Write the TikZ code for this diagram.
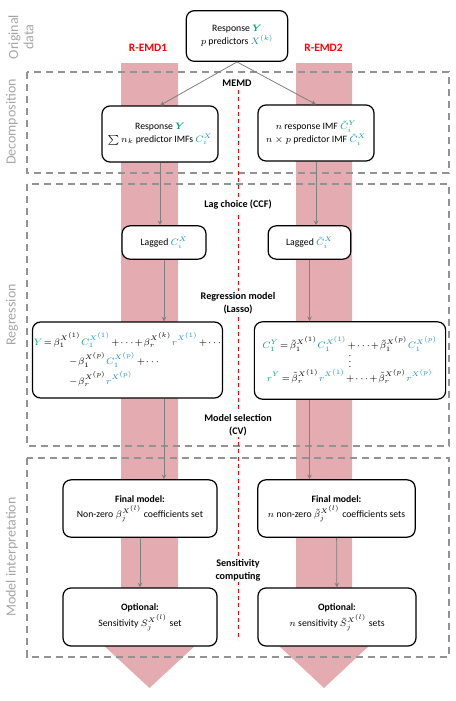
\documentclass[tikz,border=0pt]{standalone}
\usepackage{amsmath}
\usepackage{amssymb}
\usepackage{fontspec}
\setmainfont{Carlito}
\usepackage{xcolor}
\usepackage{tikz}
\usetikzlibrary{arrows, positioning, calc}
\definecolor{bandpink}{RGB}{228,172,177}
\definecolor{ygreen}{RGB}{0,166,118}
\definecolor{xblue}{RGB}{30,140,210}
\definecolor{labelgray}{RGB}{165,165,165}
\newcommand{\gY}[1]{\textcolor{ygreen}{#1}}
\newcommand{\bX}[1]{\textcolor{xblue}{#1}}
\newcommand{\tightmu}{\medmuskip=1.5mu\relax\thickmuskip=2.5mu\relax}
\tikzstyle{stagebox} = [rectangle, rounded corners=6pt, draw=black, line width=0.9pt, fill=white, align=center, inner sep=2pt, font=\fontsize{7.3}{9.6}\selectfont]
\tikzstyle{eqbox} = [stagebox, inner sep=1pt, font=\fontsize{6.8}{8}\selectfont]
\tikzstyle{phase} = [fill=white, align=center, inner sep=1pt, font=\fontsize{7.6}{9.6}\selectfont\bfseries]
\tikzstyle{panel} = [draw=gray!85, dash pattern=on 5.5pt off 3.5pt, line width=0.8pt]
\tikzstyle{arrow} = [draw=gray, line width=0.6pt, ->, >=stealth]
\tikzstyle{sidelabel} = [rotate=90, text=labelgray, align=center, font=\fontsize{10.5}{11.5}\selectfont]
\tikzstyle{method} = [text=red, font=\fontsize{8.5}{10}\selectfont\bfseries]
\tikzstyle{band} = [fill=bandpink, draw=none]

\begin{document}
\begin{tikzpicture}[x=0.75pt, y=-0.75pt]
\useasboundingbox (0,0) rectangle (456,701);

% Method bands
\path [band] (121,63) -- (178,63) -- (178,630) -- (212,630) -- (149.5,688) -- (87,630) -- (121,630) -- cycle;
\path [band] (296,63) -- (352,63) -- (352,630) -- (386,630) -- (324,688) -- (262,630) -- (296,630) -- cycle;

% Stage panels
\draw [panel] (27,72) rectangle (449,173);
\draw [panel] (27,184) rectangle (449,446);
\draw [panel] (27,458) rectangle (449,657);
\draw [red, dash pattern=on 3pt off 2.5pt, line width=0.6pt] (238,90) -- (238,640);

\node (orig) [sidelabel] at (21,37) {Original\\data};
\node (decomp) [sidelabel] at (12,122) {Decomposition};
\node (regr) [sidelabel] at (12,315) {Regression};
\node (interp) [sidelabel] at (12,557) {Model interpretation};

\node (remd1) [method] at (148,48) {R-EMD1};
\node (remd2) [method] at (323.5,48) {R-EMD2};

\node (memd) [phase] at (237,83) {MEMD};
\node (ccf) [phase] at (238,205) {Lag choice (CCF)};
\node (lasso) [phase] at (238,303) {Regression model\\(Lasso)};
\node (cv) [phase] at (238,425) {Model selection\\(CV)};
\node (sens) [phase] at (238,570) {Sensitivity\\computing};

\node (top) [stagebox, minimum width=76pt, minimum height=38pt] at (237,36) {Response \gY{$\boldsymbol{Y}$}\\$p$ predictors \bX{$X^{(k)}$}};
\node (decL) [stagebox, minimum width=87pt, minimum height=42pt] at (160,134) {Response \gY{$\boldsymbol{Y}$}\\$\sum n_k$ predictor IMFs \bX{$C_i^X$}};
\node (decR) [stagebox, minimum width=87pt, minimum height=42pt] at (316,133) {$n$ response IMF \gY{$\tilde{C}_i^Y$}\\$n\times p$ predictor IMF \bX{$\tilde{C}_i^X$}};
\node (lagL) [stagebox, minimum width=63pt, minimum height=25pt] at (164,242.5) {Lagged \bX{$C_i^X$}};
\node (lagR) [stagebox, minimum width=62pt, minimum height=25pt] at (309.5,242.5) {Lagged \bX{$\tilde{C}_i^X$}};
\node (regL) [eqbox, minimum width=136pt, minimum height=57pt] at (127.5,360) {$\tightmu\begin{aligned}
\gY{Y} = {}&\beta_1^{X^{(1)}}\bX{C_1^{X^{(1)}}} + \cdots + \beta_r^{X^{(k)}}\bX{r^{X^{(1)}}} + \cdots\\[-1pt]
&\hspace{1.6em}- \beta_1^{X^{(p)}}\bX{C_1^{X^{(p)}}} + \cdots\\[-1pt]
&\hspace{1.6em}- \beta_r^{X^{(p)}}\bX{r^{X^{(p)}}}
\end{aligned}$};
\node (regR) [eqbox, minimum width=140pt, minimum height=58pt] at (350,360.5) {$\tightmu\begin{array}{c}
\gY{C_1^Y} = \tilde{\beta}_1^{X^{(1)}}\bX{C_1^{X^{(1)}}} + \cdots + \tilde{\beta}_1^{X^{(p)}}\bX{C_1^{X^{(p)}}}\\[-3pt]
\vdots\\[-1pt]
\gY{r^Y} = \tilde{\beta}_r^{X^{(1)}}\bX{r^{X^{(1)}}} + \cdots + \tilde{\beta}_r^{X^{(p)}}\bX{r^{X^{(p)}}}
\end{array}$};
\node (finL) [stagebox, minimum width=115.5pt, minimum height=43pt] at (140,508.5) {\textbf{Final model:}\\[2pt]Non-zero $\beta_j^{X^{(l)}}$ coefficients set};
\node (finR) [stagebox, minimum width=118pt, minimum height=43pt] at (336.5,508.5) {\textbf{Final model:}\\[2pt]$n$ non-zero $\tilde{\beta}_j^{X^{(l)}}$ coefficients sets};
\node (optL) [stagebox, minimum width=115.5pt, minimum height=43.5pt] at (140,617) {\textbf{Optional:}\\[1pt]Sensitivity $S_j^{X^{(l)}}$ set};
\node (optR) [stagebox, minimum width=118.5pt, minimum height=43.5pt] at (337,617) {\textbf{Optional:}\\[1pt]$n$ sensitivity $\tilde{S}_j^{X^{(l)}}$ sets};

% Arrows
\draw [arrow] (top.south) -- (decL.north);
\draw [arrow] (top.south) -- (decR.north);
\draw [arrow] (decL.south) -- (decL.south |- lagL.north);
\draw [arrow] (decR.south) -- (decR.south |- lagR.north);
\draw [arrow] (lagL.south) -- (lagL.south |- regL.north);
\draw [arrow] (lagR.south) -- (lagR.south |- regR.north);
\draw [arrow] (lagL.south |- regL.south) -- (lagL.south |- finL.north);
\draw [arrow] (lagR.south |- regR.south) -- (lagR.south |- finR.north);
\draw [arrow] (finL) -- (optL);
\draw [arrow] (finR) -- (optR);

\end{tikzpicture}
\end{document}
